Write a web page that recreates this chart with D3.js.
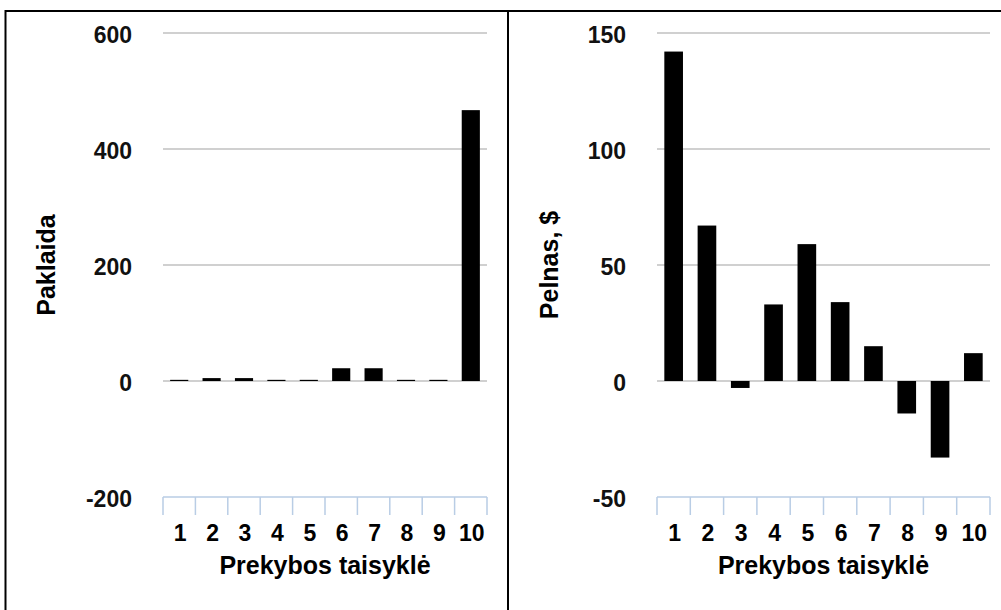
<!DOCTYPE html>
<html>
<head>
<meta charset="utf-8">
<script src="https://cdn.jsdelivr.net/npm/d3@7"></script>
<style>
  html, body { margin: 0; padding: 0; background: #fff; }
  svg { display: block; font-family: "Liberation Sans", Arial, sans-serif; }
</style>
</head>
<body>
<svg id="chart" width="1001" height="610"></svg>
<script>
const categories = ["1","2","3","4","5","6","7","8","9","10"];
const paklaida = [2, 5, 5, 2, 2, 22, 22, 2, 2, 467];
const pelnas = [142, 67, -3, 33, 59, 34, 15, -14, -33, 12];
const leftTicks = [-200, 0, 200, 400, 600];
const rightTicks = [-50, 0, 50, 100, 150];
const xTitle = "Prekybos taisyklė";
const leftTitle = "Paklaida";
const rightTitle = "Pelnas, $";

const svg = d3.select("#chart");

// frame
svg.append("rect").attr("x", 5.5).attr("y", 11).attr("width", 1010).attr("height", 620)
  .attr("fill", "none").attr("stroke", "#000").attr("stroke-width", 2);
svg.append("line").attr("x1", 508).attr("x2", 508).attr("y1", 11).attr("y2", 620)
  .attr("stroke", "#000").attr("stroke-width", 2);

function panel(cfg) {
  const g = svg.append("g");
  const x = d3.scaleBand().domain(categories).range([cfg.x0, cfg.x1]).paddingInner(0.44).paddingOuter(0.22);
  const y = d3.scaleLinear().domain(cfg.domain).range([497, 33]);

  g.selectAll("line.grid").data(cfg.ticks.filter(t => t !== cfg.domain[0])).enter()
    .append("line")
    .attr("x1", cfg.x0).attr("x2", cfg.x1)
    .attr("y1", d => y(d)).attr("y2", d => y(d))
    .attr("stroke", "#c0c0c0").attr("stroke-width", 1.5);

  g.selectAll("text.ytick").data(cfg.ticks).enter()
    .append("text")
    .attr("x", cfg.x0 - 31).attr("y", d => y(d))
    .attr("dy", "0.42em")
    .attr("text-anchor", "end")
    .attr("font-size", 23)
    .attr("font-weight", "bold")
    .attr("fill", "#111")
    .text(d => d);

  g.selectAll("rect.bar").data(cfg.values).enter()
    .append("rect")
    .attr("x", (d, i) => x(categories[i]))
    .attr("width", x.bandwidth())
    .attr("y", d => y(Math.max(0, d)))
    .attr("height", d => Math.abs(y(d) - y(0)))
    .attr("fill", "#000");

  const ay = y(cfg.domain[0]);
  g.append("line").attr("x1", cfg.x0).attr("x2", cfg.x1).attr("y1", ay).attr("y2", ay)
    .attr("stroke", "#b9cde5").attr("stroke-width", 1.5);
  const step = x.step();
  const bounds = d3.range(categories.length + 1).map(i => cfg.x0 + i * step);
  g.selectAll("line.xtick").data(bounds).enter()
    .append("line")
    .attr("x1", d => d).attr("x2", d => d)
    .attr("y1", ay).attr("y2", ay + 18)
    .attr("stroke", "#b9cde5").attr("stroke-width", 1.5);

  g.selectAll("text.xtick").data(categories).enter()
    .append("text")
    .attr("x", d => x(d) + x.bandwidth() / 2 + 1)
    .attr("y", 541)
    .attr("text-anchor", "middle")
    .attr("font-size", 23)
    .attr("font-weight", "bold")
    .attr("fill", "#000")
    .text(d => d);

  g.append("text")
    .attr("x", (cfg.x0 + cfg.x1) / 2).attr("y", 574)
    .attr("text-anchor", "middle")
    .attr("font-size", 25).attr("font-weight", "bold")
    .attr("fill", "#000")
    .text(xTitle);

  g.append("text")
    .attr("transform", `translate(${cfg.titleX},265) rotate(-90)`)
    .attr("text-anchor", "middle")
    .attr("font-size", 25).attr("font-weight", "bold")
    .attr("fill", "#000")
    .text(cfg.title);
}

panel({x0: 163, x1: 487, domain: [-200, 600], ticks: leftTicks, values: paklaida, title: leftTitle, titleX: 55});
panel({x0: 657, x1: 990, domain: [-50, 150], ticks: rightTicks, values: pelnas, title: rightTitle, titleX: 558});
</script>
</body>
</html>
